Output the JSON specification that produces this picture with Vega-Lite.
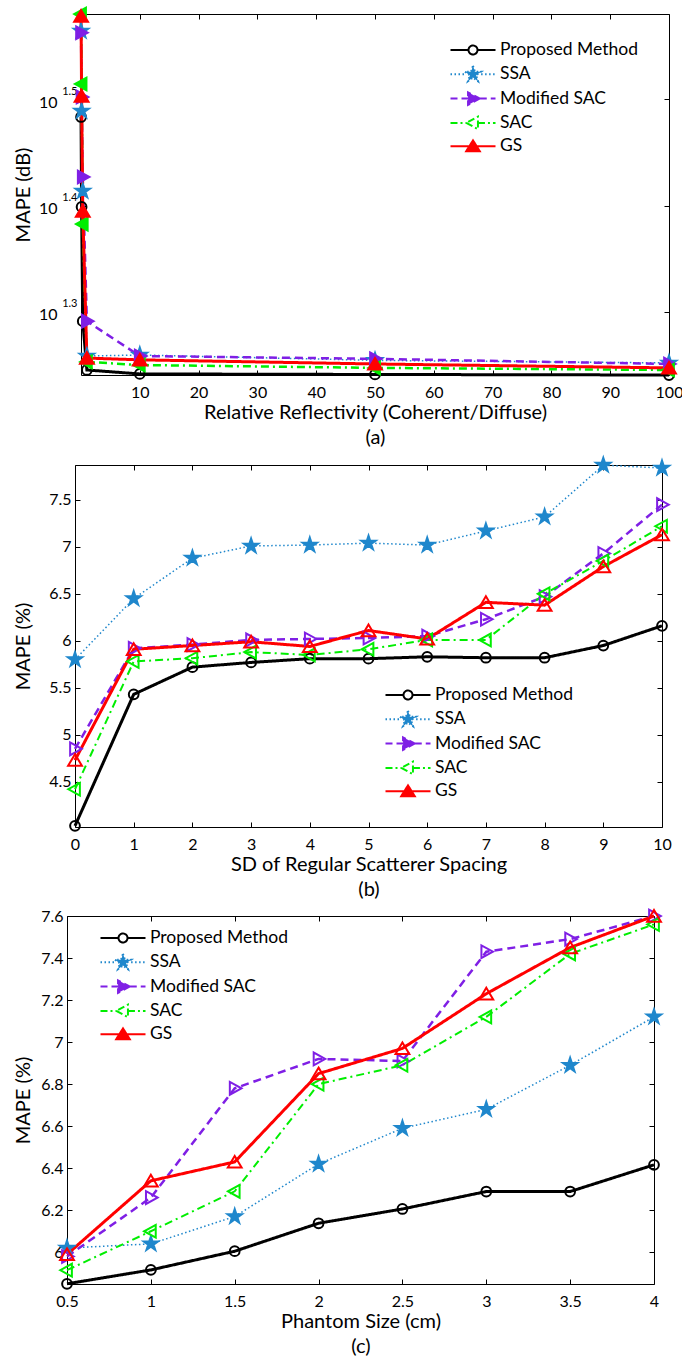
{
  "$schema": "https://vega.github.io/schema/vega-lite/v6.json",
  "background": "white",
  "padding": {"left": 12, "top": 3, "right": 0, "bottom": 0},
  "columns": 1,
  "spacing": 6,
  "resolve": {"scale": {"color": "independent"}, "legend": {"color": "independent"}},
  "config": {
    "view": {"stroke": null},
    "font": "Lato",
    "axis": {"grid": false, "domainColor": "#000000", "domainWidth": 1, "tickColor": "#000000", "tickSize": -5, "tickWidth": 1, "labelColor": "#000000", "labelFont": "Lato", "labelFontSize": 16, "titleFont": "Lato", "titleFontSize": 20, "titleFontWeight": "normal", "titleColor": "#000000", "labelFlush": false, "labelOverlap": false},
    "axisX": {"labelPadding": 14, "titlePadding": 2, "titleLineHeight": 25},
    "axisY": {"labelPadding": 9}
  },
  "datasets": {
    "a": [
      {"m": "Proposed Method", "x": 0.01, "y": 30.42}, {"m": "Proposed Method", "x": 0.1, "y": 25.04}, {"m": "Proposed Method", "x": 0.3, "y": 19.56}, {"m": "Proposed Method", "x": 1, "y": 17.6}, {"m": "Proposed Method", "x": 10, "y": 17.45}, {"m": "Proposed Method", "x": 50, "y": 17.43}, {"m": "Proposed Method", "x": 100, "y": 17.41},
      {"m": "SSA", "x": 0.01, "y": 36.63}, {"m": "SSA", "x": 0.1, "y": 30.82}, {"m": "SSA", "x": 0.3, "y": 25.92}, {"m": "SSA", "x": 1, "y": 18.14}, {"m": "SSA", "x": 10, "y": 18.18}, {"m": "SSA", "x": 50, "y": 17.97}, {"m": "SSA", "x": 100, "y": 17.87},
      {"m": "Modified SAC", "x": 0.01, "y": 36.5}, {"m": "Modified SAC", "x": 0.1, "y": 31.76}, {"m": "Modified SAC", "x": 0.3, "y": 26.72}, {"m": "Modified SAC", "x": 1, "y": 19.56}, {"m": "Modified SAC", "x": 10, "y": 18.14}, {"m": "Modified SAC", "x": 50, "y": 18.03}, {"m": "Modified SAC", "x": 100, "y": 17.83},
      {"m": "SAC", "x": 0.01, "y": 38.0}, {"m": "SAC", "x": 0.1, "y": 32.67}, {"m": "SAC", "x": 0.3, "y": 24.13}, {"m": "SAC", "x": 1, "y": 17.91}, {"m": "SAC", "x": 10, "y": 17.79}, {"m": "SAC", "x": 50, "y": 17.68}, {"m": "SAC", "x": 100, "y": 17.6},
      {"m": "GS", "x": 0.01, "y": 37.84}, {"m": "GS", "x": 0.1, "y": 31.83}, {"m": "GS", "x": 0.3, "y": 24.82}, {"m": "GS", "x": 1, "y": 18.06}, {"m": "GS", "x": 10, "y": 17.99}, {"m": "GS", "x": 50, "y": 17.83}, {"m": "GS", "x": 100, "y": 17.68}
    ],
    "b": [
      {"m": "Proposed Method", "x": 0, "y": 4.03}, {"m": "Proposed Method", "x": 1, "y": 5.43}, {"m": "Proposed Method", "x": 2, "y": 5.72}, {"m": "Proposed Method", "x": 3, "y": 5.77}, {"m": "Proposed Method", "x": 4, "y": 5.81}, {"m": "Proposed Method", "x": 5, "y": 5.81}, {"m": "Proposed Method", "x": 6, "y": 5.83}, {"m": "Proposed Method", "x": 7, "y": 5.82}, {"m": "Proposed Method", "x": 8, "y": 5.82}, {"m": "Proposed Method", "x": 9, "y": 5.95}, {"m": "Proposed Method", "x": 10, "y": 6.16},
      {"m": "SSA", "x": 0, "y": 5.8}, {"m": "SSA", "x": 1, "y": 6.45}, {"m": "SSA", "x": 2, "y": 6.88}, {"m": "SSA", "x": 3, "y": 7.01}, {"m": "SSA", "x": 4, "y": 7.02}, {"m": "SSA", "x": 5, "y": 7.04}, {"m": "SSA", "x": 6, "y": 7.02}, {"m": "SSA", "x": 7, "y": 7.17}, {"m": "SSA", "x": 8, "y": 7.32}, {"m": "SSA", "x": 9, "y": 7.87}, {"m": "SSA", "x": 10, "y": 7.84},
      {"m": "Modified SAC", "x": 0, "y": 4.85}, {"m": "Modified SAC", "x": 1, "y": 5.92}, {"m": "Modified SAC", "x": 2, "y": 5.96}, {"m": "Modified SAC", "x": 3, "y": 6.01}, {"m": "Modified SAC", "x": 4, "y": 6.02}, {"m": "Modified SAC", "x": 5, "y": 6.03}, {"m": "Modified SAC", "x": 6, "y": 6.05}, {"m": "Modified SAC", "x": 7, "y": 6.23}, {"m": "Modified SAC", "x": 8, "y": 6.47}, {"m": "Modified SAC", "x": 9, "y": 6.93}, {"m": "Modified SAC", "x": 10, "y": 7.45},
      {"m": "SAC", "x": 0, "y": 4.42}, {"m": "SAC", "x": 1, "y": 5.78}, {"m": "SAC", "x": 2, "y": 5.815}, {"m": "SAC", "x": 3, "y": 5.88}, {"m": "SAC", "x": 4, "y": 5.85}, {"m": "SAC", "x": 5, "y": 5.91}, {"m": "SAC", "x": 6, "y": 6.01}, {"m": "SAC", "x": 7, "y": 6.01}, {"m": "SAC", "x": 8, "y": 6.5}, {"m": "SAC", "x": 9, "y": 6.85}, {"m": "SAC", "x": 10, "y": 7.22},
      {"m": "GS", "x": 0, "y": 4.73}, {"m": "GS", "x": 1, "y": 5.91}, {"m": "GS", "x": 2, "y": 5.95}, {"m": "GS", "x": 3, "y": 5.99}, {"m": "GS", "x": 4, "y": 5.94}, {"m": "GS", "x": 5, "y": 6.11}, {"m": "GS", "x": 6, "y": 6.02}, {"m": "GS", "x": 7, "y": 6.41}, {"m": "GS", "x": 8, "y": 6.38}, {"m": "GS", "x": 9, "y": 6.79}, {"m": "GS", "x": 10, "y": 7.13}
    ],
    "c": [
      {"m": "Proposed Method", "x": 0.5, "y": 5.85}, {"m": "Proposed Method", "x": 1, "y": 5.916}, {"m": "Proposed Method", "x": 1.5, "y": 6.005}, {"m": "Proposed Method", "x": 2, "y": 6.138}, {"m": "Proposed Method", "x": 2.5, "y": 6.206}, {"m": "Proposed Method", "x": 3, "y": 6.289}, {"m": "Proposed Method", "x": 3.5, "y": 6.289}, {"m": "Proposed Method", "x": 4, "y": 6.416},
      {"m": "SSA", "x": 0.5, "y": 6.02}, {"m": "SSA", "x": 1, "y": 6.04}, {"m": "SSA", "x": 1.5, "y": 6.17}, {"m": "SSA", "x": 2, "y": 6.42}, {"m": "SSA", "x": 2.5, "y": 6.59}, {"m": "SSA", "x": 3, "y": 6.68}, {"m": "SSA", "x": 3.5, "y": 6.89}, {"m": "SSA", "x": 4, "y": 7.12},
      {"m": "Modified SAC", "x": 0.5, "y": 5.98}, {"m": "Modified SAC", "x": 1, "y": 6.26}, {"m": "Modified SAC", "x": 1.5, "y": 6.78}, {"m": "Modified SAC", "x": 2, "y": 6.92}, {"m": "Modified SAC", "x": 2.5, "y": 6.91}, {"m": "Modified SAC", "x": 3, "y": 7.43}, {"m": "Modified SAC", "x": 3.5, "y": 7.49}, {"m": "Modified SAC", "x": 4, "y": 7.6},
      {"m": "SAC", "x": 0.5, "y": 5.915}, {"m": "SAC", "x": 1, "y": 6.1}, {"m": "SAC", "x": 1.5, "y": 6.29}, {"m": "SAC", "x": 2, "y": 6.8}, {"m": "SAC", "x": 2.5, "y": 6.89}, {"m": "SAC", "x": 3, "y": 7.12}, {"m": "SAC", "x": 3.5, "y": 7.42}, {"m": "SAC", "x": 4, "y": 7.56},
      {"m": "GS", "x": 0.5, "y": 5.99}, {"m": "GS", "x": 1, "y": 6.34}, {"m": "GS", "x": 1.5, "y": 6.43}, {"m": "GS", "x": 2, "y": 6.85}, {"m": "GS", "x": 2.5, "y": 6.97}, {"m": "GS", "x": 3, "y": 7.23}, {"m": "GS", "x": 3.5, "y": 7.45}, {"m": "GS", "x": 4, "y": 7.6}
    ]
  },
  "concat": [
    {
      "spacing": 0,
      "resolve": {"scale": {"color": "independent"}, "legend": {"color": "independent"}},
      "hconcat": [
        {"width": 1, "height": 1, "data": {"values": []}, "mark": "point"},
        {
          "width": 588, "height": 361,
          "data": {"name": "a"},
          "resolve": {"scale": {"x": "independent", "y": "independent"}},
          "layer": [
            {
              "mark": {"type": "line", "clip": false},
              "encoding": {
                "x": {"field": "x", "type": "quantitative", "scale": {"domain": [0, 100], "nice": false, "zero": false}, "axis": {"values": [10, 20, 30, 40, 50, 60, 70, 80, 90, 100], "format": "d", "title": ["Relative Reflectivity (Coherent/Diffuse)", "(a)"]}},
                "y": {"field": "y", "type": "quantitative", "scale": {"type": "log", "domain": [17.41, 38.01], "nice": false, "zero": false}, "axis": {"values": [19.9526, 25.1189, 31.6228], "labelExpr": "'10'", "labelPadding": 29, "labelOffset": 3, "title": "MAPE (dB)", "titlePadding": 5}},
                "color": {"field": "m", "type": "nominal", "scale": {"domain": ["Proposed Method", "SSA", "Modified SAC", "SAC", "GS"], "range": ["#000000", "#1F87CC", "#7F1FE5", "#00EE00", "#FF0000"]},
                  "legend": {"orient": "none", "legendX": 382, "legendY": 26, "title": null, "padding": 0, "symbolSize": 324, "symbolStrokeWidth": 2, "labelOffset": 17, "rowPadding": 2.3, "labelFontSize": 17.5, "labelFont": "Lato", "labelColor": "#000000", "labelLimit": 300,
                    "encode": {"symbols": {"update": {
                      "shape": {"signal": "datum.value==='Proposed Method'?'M-2.5,0H-0.5M0.5,0H2.5M-0.5,0A0.5,0.5,0,1,1,0.5,0A0.5,0.5,0,1,1,-0.5,0Z':datum.value==='SSA'?'M-2.5,0H-0.9M0.9,0H2.5M0,-0.95L0.214,-0.294L0.903,-0.294L0.345,0.112L0.559,0.769L0,0.363L-0.559,0.769L-0.345,0.112L-0.903,-0.294L-0.214,-0.294Z':datum.value==='Modified SAC'?'M-2.5,0H-0.55M0.75,0H2.5M0.75,0L-0.55,0.7L-0.55,-0.7Z':datum.value==='SAC'?'M-2.5,0H-0.75M0.55,0H2.5M-0.75,0L0.55,0.7L0.55,-0.7Z':'M-2.5,0H2.5M0,-0.65L0.75,0.55L-0.75,0.55Z'"},
                      "stroke": {"signal": "datum.value==='Proposed Method'?'#000000':datum.value==='SSA'?'#1F87CC':datum.value==='Modified SAC'?'#7F1FE5':datum.value==='SAC'?'#00EE00':'#FF0000'"},
                      "fill": {"signal": "datum.value==='SSA'?'#1F87CC':datum.value==='Modified SAC'?'#7F1FE5':datum.value==='GS'?'#FF0000':'transparent'"},
                      "strokeDash": {"signal": "datum.value==='SSA'?[1.5,2.5]:datum.value==='Modified SAC'?[7,4]:datum.value==='SAC'?[7,3,2,3]:[1,0]"},
                      "size": {"value": 324}, "opacity": {"value": 1}, "fillOpacity": {"value": 1}, "strokeOpacity": {"value": 1}, "strokeWidth": {"value": 2}
                    }}}}},
                "strokeDash": {"condition": [{"test": "datum.m==='SSA'", "value": [1.5, 2.5]}, {"test": "datum.m==='Modified SAC'", "value": [8, 5]}, {"test": "datum.m==='SAC'", "value": [8, 4, 2, 4]}], "value": [1, 0]},
                "strokeWidth": {"condition": [{"test": "datum.m==='SSA'", "value": 1.5}, {"test": "datum.m==='Modified SAC' || datum.m==='SAC'", "value": 2.5}], "value": 3}
              }
            },
            {
              "mark": {"type": "point", "clip": false, "size": 225, "strokeWidth": 2, "opacity": 1, "filled": false},
              "encoding": {
                "x": {"field": "x", "type": "quantitative", "scale": {"domain": [0, 100], "nice": false, "zero": false}, "axis": {"orient": "top", "labels": false, "title": null, "values": [10, 20, 30, 40, 50, 60, 70, 80, 90, 100]}},
                "y": {"field": "y", "type": "quantitative", "scale": {"type": "log", "domain": [17.41, 38.01], "nice": false, "zero": false}, "axis": {"orient": "right", "labels": false, "title": null, "values": [19.9526, 25.1189, 31.6228]}},
                "color": {"field": "m", "type": "nominal"},
                "shape": {"condition": [{"test": "datum.m==='SSA'", "value": "M0,-1L0.225,-0.309L0.951,-0.309L0.363,0.118L0.588,0.809L0,0.382L-0.588,0.809L-0.363,0.118L-0.951,-0.309L-0.225,-0.309Z"}, {"test": "datum.m==='Modified SAC'", "value": "M0.9,0L-0.65,0.85L-0.65,-0.85Z"}, {"test": "datum.m==='SAC'", "value": "M-0.9,0L0.65,0.85L0.65,-0.85Z"}, {"test": "datum.m==='GS'", "value": "M0,-0.8L0.92,0.75L-0.92,0.75Z"}], "value": "M-0.65,0A0.65,0.65,0,1,1,0.65,0A0.65,0.65,0,1,1,-0.65,0Z"},
                "fill": {"condition": [{"test": "datum.m==='SSA'", "value": "#1F87CC"}, {"test": "datum.m==='Modified SAC'", "value": "#7F1FE5"}, {"test": "datum.m==='SAC'", "value": "#00EE00"}, {"test": "datum.m==='GS'", "value": "#FF0000"}], "value": "transparent"}
              }
            },
            {
              "mark": {"type": "point", "opacity": 0},
              "encoding": {
                "x": {"field": "x", "type": "quantitative", "scale": {"domain": [0, 100], "nice": false, "zero": false}, "axis": null},
                "y": {"field": "y", "type": "quantitative", "scale": {"type": "log", "domain": [17.41, 38.01], "nice": false, "zero": false}, "axis": {"orient": "left", "values": [19.9526, 25.1189, 31.6228], "labelExpr": "datum.value<22?'1.3':datum.value<28?'1.4':'1.5'", "labelFontSize": 11, "ticks": false, "domain": false, "labelPadding": 4, "labelOffset": -8, "title": null}}
              }
            }
          ]
        }
      ]
    },
    {
      "spacing": 0,
      "resolve": {"scale": {"color": "independent"}, "legend": {"color": "independent"}},
      "hconcat": [
        {"width": 1, "height": 1, "data": {"values": []}, "mark": "point"},
        {
          "width": 587, "height": 362,
          "data": {"name": "b"},
          "resolve": {"scale": {"x": "independent", "y": "independent"}},
          "layer": [
            {
              "mark": {"type": "line", "clip": false},
              "encoding": {
                "x": {"field": "x", "type": "quantitative", "scale": {"domain": [0, 10], "nice": false, "zero": false}, "axis": {"values": [0, 1, 2, 3, 4, 5, 6, 7, 8, 9, 10], "format": "d", "title": ["SD of Regular Scatterer Spacing", "(b)"]}},
                "y": {"field": "y", "type": "quantitative", "scale": {"domain": [4.018, 7.872], "nice": false, "zero": false}, "axis": {"values": [4.5, 5, 5.5, 6, 6.5, 7, 7.5], "format": "~g", "title": "MAPE (%)", "titlePadding": 15}},
                "color": {"field": "m", "type": "nominal", "scale": {"domain": ["Proposed Method", "SSA", "Modified SAC", "SAC", "GS"], "range": ["#000000", "#1F87CC", "#7F1FE5", "#00EE00", "#FF0000"]},
                  "legend": {"orient": "none", "legendX": 323, "legendY": 220, "title": null, "padding": 0, "symbolSize": 324, "symbolStrokeWidth": 2, "labelOffset": 17, "rowPadding": 2.3, "labelFontSize": 17.5, "labelFont": "Lato", "labelColor": "#000000", "labelLimit": 300,
                    "encode": {"symbols": {"update": {
                      "shape": {"signal": "datum.value==='Proposed Method'?'M-2.5,0H-0.5M0.5,0H2.5M-0.5,0A0.5,0.5,0,1,1,0.5,0A0.5,0.5,0,1,1,-0.5,0Z':datum.value==='SSA'?'M-2.5,0H-0.9M0.9,0H2.5M0,-0.95L0.214,-0.294L0.903,-0.294L0.345,0.112L0.559,0.769L0,0.363L-0.559,0.769L-0.345,0.112L-0.903,-0.294L-0.214,-0.294Z':datum.value==='Modified SAC'?'M-2.5,0H-0.55M0.75,0H2.5M0.75,0L-0.55,0.7L-0.55,-0.7Z':datum.value==='SAC'?'M-2.5,0H-0.75M0.55,0H2.5M-0.75,0L0.55,0.7L0.55,-0.7Z':'M-2.5,0H2.5M0,-0.65L0.75,0.55L-0.75,0.55Z'"},
                      "stroke": {"signal": "datum.value==='Proposed Method'?'#000000':datum.value==='SSA'?'#1F87CC':datum.value==='Modified SAC'?'#7F1FE5':datum.value==='SAC'?'#00EE00':'#FF0000'"},
                      "fill": {"signal": "datum.value==='SSA'?'#1F87CC':datum.value==='Modified SAC'?'#7F1FE5':datum.value==='GS'?'#FF0000':'transparent'"},
                      "strokeDash": {"signal": "datum.value==='SSA'?[1.5,2.5]:datum.value==='Modified SAC'?[7,4]:datum.value==='SAC'?[7,3,2,3]:[1,0]"},
                      "size": {"value": 324}, "opacity": {"value": 1}, "fillOpacity": {"value": 1}, "strokeOpacity": {"value": 1}, "strokeWidth": {"value": 2}
                    }}}}},
                "strokeDash": {"condition": [{"test": "datum.m==='SSA'", "value": [1.5, 2.5]}, {"test": "datum.m==='Modified SAC'", "value": [8, 5]}, {"test": "datum.m==='SAC'", "value": [8, 4, 2, 4]}], "value": [1, 0]},
                "strokeWidth": {"condition": [{"test": "datum.m==='SSA'", "value": 1.5}, {"test": "datum.m==='Modified SAC'", "value": 2.5}, {"test": "datum.m==='SAC'", "value": 2}], "value": 3}
              }
            },
            {
              "mark": {"type": "point", "clip": false, "size": 225, "strokeWidth": 2, "opacity": 1, "filled": false},
              "encoding": {
                "x": {"field": "x", "type": "quantitative", "scale": {"domain": [0, 10], "nice": false, "zero": false}, "axis": {"orient": "top", "labels": false, "title": null, "values": [0, 1, 2, 3, 4, 5, 6, 7, 8, 9, 10]}},
                "y": {"field": "y", "type": "quantitative", "scale": {"domain": [4.018, 7.872], "nice": false, "zero": false}, "axis": {"orient": "right", "labels": false, "title": null, "values": [4.5, 5, 5.5, 6, 6.5, 7, 7.5]}},
                "color": {"field": "m", "type": "nominal"},
                "shape": {"condition": [{"test": "datum.m==='SSA'", "value": "M0,-1L0.225,-0.309L0.951,-0.309L0.363,0.118L0.588,0.809L0,0.382L-0.588,0.809L-0.363,0.118L-0.951,-0.309L-0.225,-0.309Z"}, {"test": "datum.m==='Modified SAC'", "value": "M0.9,0L-0.65,0.85L-0.65,-0.85Z"}, {"test": "datum.m==='SAC'", "value": "M-0.9,0L0.65,0.85L0.65,-0.85Z"}, {"test": "datum.m==='GS'", "value": "M0,-0.8L0.92,0.75L-0.92,0.75Z"}], "value": "M-0.65,0A0.65,0.65,0,1,1,0.65,0A0.65,0.65,0,1,1,-0.65,0Z"},
                "fill": {"condition": [{"test": "datum.m==='SSA'", "value": "#1F87CC"}], "value": "transparent"}
              }
            }
          ]
        }
      ]
    },
    {
      "spacing": 0,
      "resolve": {"scale": {"color": "independent"}, "legend": {"color": "independent"}},
      "hconcat": [
        {"width": 1, "height": 1, "data": {"values": []}, "mark": "point"},
        {
          "width": 587, "height": 368,
          "data": {"name": "c"},
          "resolve": {"scale": {"x": "independent", "y": "independent"}},
          "layer": [
            {
              "mark": {"type": "line", "clip": false},
              "encoding": {
                "x": {"field": "x", "type": "quantitative", "scale": {"domain": [0.5, 4], "nice": false, "zero": false}, "axis": {"values": [0.5, 1, 1.5, 2, 2.5, 3, 3.5, 4], "format": "~g", "title": ["Phantom Size (cm)", "(c)"]}},
                "y": {"field": "y", "type": "quantitative", "scale": {"domain": [5.849, 7.6], "nice": false, "zero": false}, "axis": {"values": [6, 6.2, 6.4, 6.6, 6.8, 7, 7.2, 7.4, 7.6], "format": "~g", "title": "MAPE (%)", "titlePadding": 7}},
                "color": {"field": "m", "type": "nominal", "scale": {"domain": ["Proposed Method", "SSA", "Modified SAC", "SAC", "GS"], "range": ["#000000", "#1F87CC", "#7F1FE5", "#00EE00", "#FF0000"]},
                  "legend": {"orient": "none", "legendX": 46, "legendY": 12, "title": null, "padding": 0, "symbolSize": 324, "symbolStrokeWidth": 2, "labelOffset": 17, "rowPadding": 2.3, "labelFontSize": 17.5, "labelFont": "Lato", "labelColor": "#000000", "labelLimit": 300,
                    "encode": {"symbols": {"update": {
                      "shape": {"signal": "datum.value==='Proposed Method'?'M-2.5,0H-0.5M0.5,0H2.5M-0.5,0A0.5,0.5,0,1,1,0.5,0A0.5,0.5,0,1,1,-0.5,0Z':datum.value==='SSA'?'M-2.5,0H-0.9M0.9,0H2.5M0,-0.95L0.214,-0.294L0.903,-0.294L0.345,0.112L0.559,0.769L0,0.363L-0.559,0.769L-0.345,0.112L-0.903,-0.294L-0.214,-0.294Z':datum.value==='Modified SAC'?'M-2.5,0H-0.55M0.75,0H2.5M0.75,0L-0.55,0.7L-0.55,-0.7Z':datum.value==='SAC'?'M-2.5,0H-0.75M0.55,0H2.5M-0.75,0L0.55,0.7L0.55,-0.7Z':'M-2.5,0H2.5M0,-0.65L0.75,0.55L-0.75,0.55Z'"},
                      "stroke": {"signal": "datum.value==='Proposed Method'?'#000000':datum.value==='SSA'?'#1F87CC':datum.value==='Modified SAC'?'#7F1FE5':datum.value==='SAC'?'#00EE00':'#FF0000'"},
                      "fill": {"signal": "datum.value==='SSA'?'#1F87CC':datum.value==='Modified SAC'?'#7F1FE5':datum.value==='GS'?'#FF0000':'transparent'"},
                      "strokeDash": {"signal": "datum.value==='SSA'?[1.5,2.5]:datum.value==='Modified SAC'?[7,4]:datum.value==='SAC'?[7,3,2,3]:[1,0]"},
                      "size": {"value": 324}, "opacity": {"value": 1}, "fillOpacity": {"value": 1}, "strokeOpacity": {"value": 1}, "strokeWidth": {"value": 2}
                    }}}}},
                "strokeDash": {"condition": [{"test": "datum.m==='SSA'", "value": [1.5, 2.5]}, {"test": "datum.m==='Modified SAC'", "value": [8, 5]}, {"test": "datum.m==='SAC'", "value": [8, 4, 2, 4]}], "value": [1, 0]},
                "strokeWidth": {"condition": [{"test": "datum.m==='SSA'", "value": 1.5}, {"test": "datum.m==='Modified SAC'", "value": 2.5}, {"test": "datum.m==='SAC'", "value": 2}], "value": 3}
              }
            },
            {
              "mark": {"type": "point", "clip": false, "size": 225, "strokeWidth": 2, "opacity": 1, "filled": false},
              "encoding": {
                "x": {"field": "x", "type": "quantitative", "scale": {"domain": [0.5, 4], "nice": false, "zero": false}, "axis": {"orient": "top", "labels": false, "title": null, "values": [0.5, 1, 1.5, 2, 2.5, 3, 3.5, 4]}},
                "y": {"field": "y", "type": "quantitative", "scale": {"domain": [5.849, 7.6], "nice": false, "zero": false}, "axis": {"orient": "right", "labels": false, "title": null, "values": [6, 6.2, 6.4, 6.6, 6.8, 7, 7.2, 7.4, 7.6]}},
                "color": {"field": "m", "type": "nominal"},
                "shape": {"condition": [{"test": "datum.m==='SSA'", "value": "M0,-1L0.225,-0.309L0.951,-0.309L0.363,0.118L0.588,0.809L0,0.382L-0.588,0.809L-0.363,0.118L-0.951,-0.309L-0.225,-0.309Z"}, {"test": "datum.m==='Modified SAC'", "value": "M0.9,0L-0.65,0.85L-0.65,-0.85Z"}, {"test": "datum.m==='SAC'", "value": "M-0.9,0L0.65,0.85L0.65,-0.85Z"}, {"test": "datum.m==='GS'", "value": "M0,-0.8L0.92,0.75L-0.92,0.75Z"}], "value": "M-0.65,0A0.65,0.65,0,1,1,0.65,0A0.65,0.65,0,1,1,-0.65,0Z"},
                "fill": {"condition": [{"test": "datum.m==='SSA'", "value": "#1F87CC"}], "value": "transparent"}
              }
            }
          ]
        }
      ]
    }
  ]
}
